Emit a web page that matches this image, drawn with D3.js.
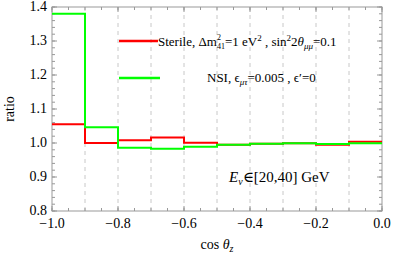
<!DOCTYPE html>
<html>
<head>
<meta charset="utf-8">
<script src="https://cdn.jsdelivr.net/npm/d3@7"></script>
<style>
body { margin: 0; background: #fff; }
text { font-family: "Liberation Serif", "DejaVu Serif", serif; fill: #000; }
</style>
</head>
<body>
<div id="chart"></div>
<script>
// bin edges in cos(theta_z) and ratio per bin
var binEdges = [-1.0, -0.9, -0.8, -0.7, -0.6, -0.5, -0.4, -0.3, -0.2, -0.1, 0.0];
var sterile = [1.055, 1.000, 1.008, 1.016, 1.001, 0.995, 0.998, 0.999, 0.995, 1.004];
var nsi = [1.380, 1.046, 0.986, 0.983, 0.989, 0.995, 0.998, 0.999, 0.997, 0.999];
var xTickValues = [-1.0, -0.8, -0.6, -0.4, -0.2, 0.0];
var yTickValues = [0.8, 0.9, 1.0, 1.1, 1.2, 1.3, 1.4];
var dashedAt = [-0.9, -0.8, -0.7, -0.6, -0.5, -0.4, -0.3, -0.2, -0.1];

var margin = { top: 7, right: 33, bottom: 49, left: 52 },
  width = 415 - margin.left - margin.right,
  height = 260 - margin.top - margin.bottom;

var x = d3.scaleLinear().domain([-1, 0]).range([0, width]);
var y = d3.scaleLinear().domain([0.8, 1.4]).range([height, 0]);

var svg = d3.select("#chart").append("svg")
  .attr("width", 415)
  .attr("height", 260)
  .append("g")
  .attr("transform", "translate(" + margin.left + "," + margin.top + ")");

// dashed grid lines at bin edges
svg.selectAll(".grid")
  .data(dashedAt)
  .enter().append("line")
  .attr("x1", function(d) { return x(d); })
  .attr("x2", function(d) { return x(d); })
  .attr("y1", 0)
  .attr("y2", height)
  .attr("stroke", "#c8c8c8")
  .attr("stroke-width", 1)
  .attr("stroke-dasharray", "4,4");

var frameColor = "#999";

// minor/major ticks, pointing inwards, on all four sides
function xTicks(vals, len) {
  vals.forEach(function(v) {
    svg.append("line").attr("x1", x(v)).attr("x2", x(v)).attr("y1", height).attr("y2", height - len)
      .attr("stroke", frameColor);
    svg.append("line").attr("x1", x(v)).attr("x2", x(v)).attr("y1", 0).attr("y2", len)
      .attr("stroke", frameColor);
  });
}
function yTicks(vals, len) {
  vals.forEach(function(v) {
    svg.append("line").attr("x1", 0).attr("x2", len).attr("y1", y(v)).attr("y2", y(v))
      .attr("stroke", frameColor);
    svg.append("line").attr("x1", width).attr("x2", width - len).attr("y1", y(v)).attr("y2", y(v))
      .attr("stroke", frameColor);
  });
}
xTicks(d3.range(0, 21).map(function(i) { return -1 + i * 0.05; }), 3);
xTicks(xTickValues, 5);
yTicks(d3.range(0, 31).map(function(i) { return 0.8 + i * 0.02; }), 3);
yTicks(yTickValues, 5);

svg.append("rect")
  .attr("width", width)
  .attr("height", height)
  .attr("fill", "none")
  .attr("stroke", frameColor)
  .attr("stroke-width", 1);

// tick labels
function fmt(v) {
  var s = Math.abs(v).toFixed(1);
  return (v < -1e-9 ? "\u2212" : "") + s;
}
svg.selectAll(".xl")
  .data(xTickValues)
  .enter().append("text")
  .attr("x", function(d) { return x(d); })
  .attr("y", height + 17)
  .attr("text-anchor", "middle")
  .style("font-size", "14px")
  .text(fmt);

svg.selectAll(".yl")
  .data(yTickValues)
  .enter().append("text")
  .attr("x", -5)
  .attr("y", function(d) { return y(d) + 4; })
  .attr("text-anchor", "end")
  .style("font-size", "14px")
  .text(fmt);

// step histograms
var stepLine = d3.line()
  .x(function(d) { return x(d[0]); })
  .y(function(d) { return y(d[1]); })
  .curve(d3.curveStepAfter);

function steps(vals) {
  var pts = vals.map(function(v, i) { return [binEdges[i], v]; });
  pts.push([binEdges[binEdges.length - 1], vals[vals.length - 1]]);
  return pts;
}

svg.append("path")
  .attr("d", stepLine(steps(sterile)))
  .attr("fill", "none")
  .attr("stroke", "#ff0000")
  .attr("stroke-width", 2);

svg.append("path")
  .attr("d", stepLine(steps(nsi)))
  .attr("fill", "none")
  .attr("stroke", "#00ff00")
  .attr("stroke-width", 2);

// legend
var leg = svg.append("g").attr("transform", "translate(" + (-margin.left) + "," + (-margin.top) + ")");
leg.append("line").attr("x1", 119).attr("x2", 158).attr("y1", 41).attr("y2", 41)
  .attr("stroke", "#ff0000").attr("stroke-width", 2.5);
leg.append("line").attr("x1", 119).attr("x2", 160).attr("y1", 78).attr("y2", 78)
  .attr("stroke", "#00ff00").attr("stroke-width", 2.5);

var t1 = leg.append("text").attr("x", 158).attr("y", 46).style("font-size", "13px");
t1.append("tspan").text("Sterile, \u0394m");
t1.append("tspan").attr("dy", -6).style("font-size", "8px").text("2");
t1.append("tspan").attr("dx", -4).attr("dy", 9).style("font-size", "8px").text("41");
t1.append("tspan").attr("dy", -3).text("=1 eV");
t1.append("tspan").attr("dy", -5).style("font-size", "9px").text("2");
t1.append("tspan").attr("dy", 5).text(" , sin");
t1.append("tspan").attr("dy", -5).style("font-size", "9px").text("2");
t1.append("tspan").attr("dy", 5).text("2");
t1.append("tspan").style("font-style", "italic").text("\u03b8");
t1.append("tspan").attr("dy", 3).style("font-size", "9px").style("font-style", "italic").text("\u03bc\u03bc");
t1.append("tspan").attr("dy", -3).text("=0.1");

var t2 = leg.append("text").attr("x", 207).attr("y", 82).style("font-size", "13px");
t2.append("tspan").text("NSI, \u03f5");
t2.append("tspan").attr("dy", 3).style("font-size", "9px").style("font-style", "italic").text("\u03bc\u03c4");
t2.append("tspan").attr("dy", -3).text("=0.005 , \u03f5\u2032=0");

// energy range label
var t3 = leg.append("text").attr("x", 229).attr("y", 182).style("font-size", "15px");
t3.append("tspan").style("font-style", "italic").text("E");
t3.append("tspan").attr("dy", 3).style("font-size", "10px").style("font-style", "italic").text("\u03bd");
t3.append("tspan").attr("dy", -3).text("\u2208[20,40] GeV");

// axis titles
var xt = svg.append("text")
  .attr("x", width / 2)
  .attr("y", height + 38)
  .attr("text-anchor", "middle")
  .style("font-size", "14px");
xt.append("tspan").text("cos ");
xt.append("tspan").style("font-style", "italic").text("\u03b8");
xt.append("tspan").attr("dy", 3).style("font-size", "10px").style("font-style", "italic").text("z");

svg.append("text")
  .attr("transform", "rotate(-90)")
  .attr("x", -height / 2)
  .attr("y", -38)
  .attr("text-anchor", "middle")
  .style("font-size", "14px")
  .text("ratio");
</script>
</body>
</html>
